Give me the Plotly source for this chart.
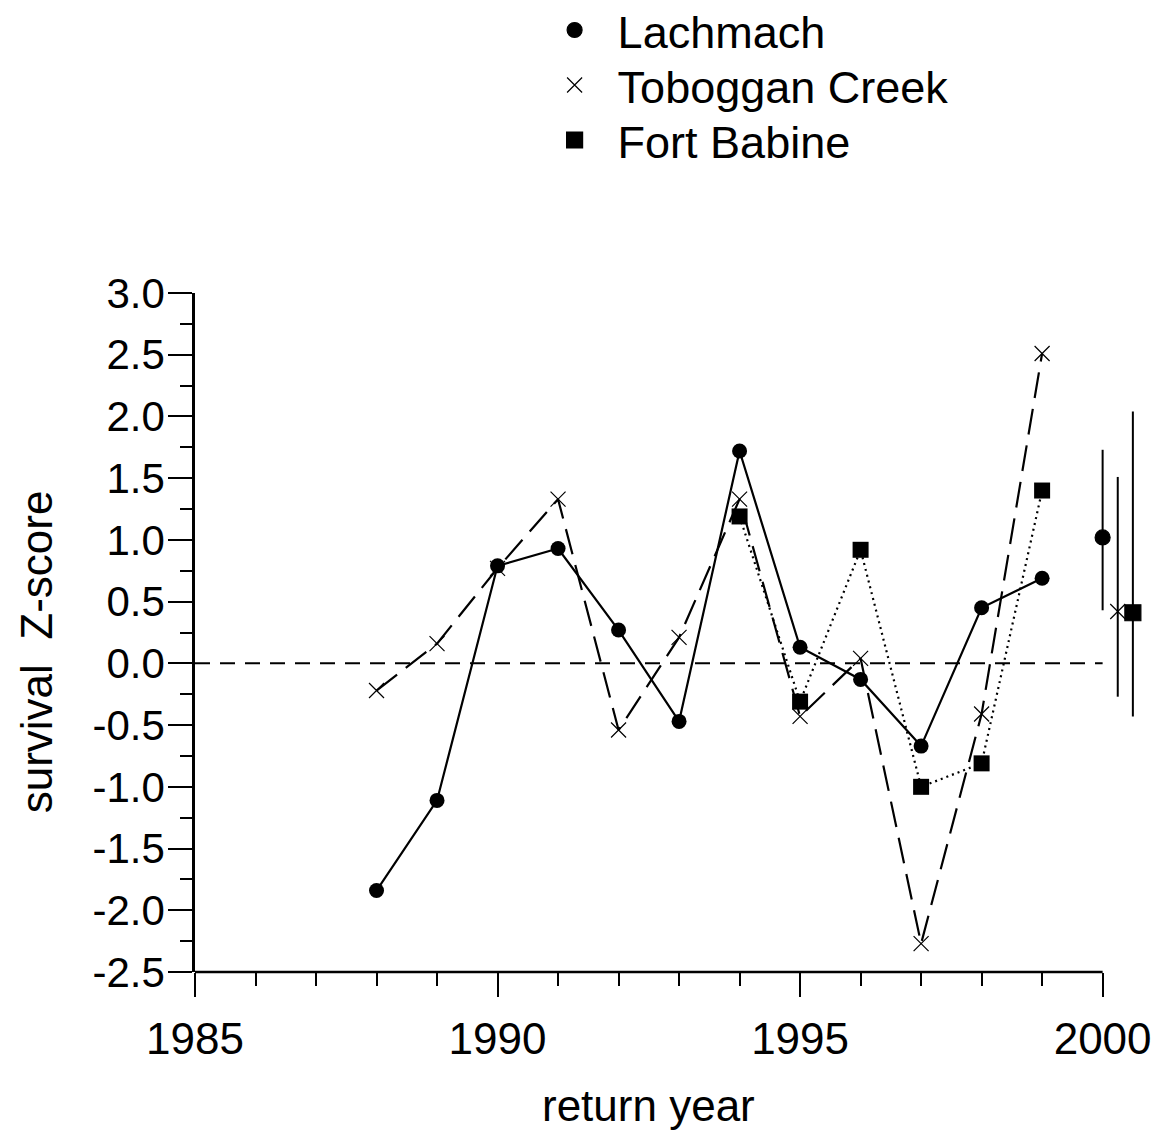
import plotly.graph_objects as go

# return years
years = [1988, 1989, 1990, 1991, 1992, 1993, 1994, 1995, 1996, 1997, 1998, 1999]
years_fb = [1994, 1995, 1996, 1997, 1998, 1999]

# survival Z-scores
lachmach = [-1.84, -1.11, 0.79, 0.93, 0.27, -0.47, 1.72, 0.13, -0.13, -0.67, 0.45, 0.69]
toboggan = [-0.22, 0.16, 0.77, 1.33, -0.54, 0.21, 1.33, -0.43, 0.04, -2.27, -0.41, 2.51]
fort_babine = [1.19, -0.31, 0.92, -1.00, -0.81, 1.40]

# mean values with ranges, plotted just right of 2000
mean_x = [2000.0, 2000.25, 2000.5]
mean_y = [1.02, 0.42, 0.41]
mean_hi = [1.73, 1.51, 2.04]
mean_lo = [0.43, -0.27, -0.43]

zero_x = [1985, 2000]
zero_y = [0, 0]

x_ticks = [1985, 1990, 1995, 2000]
x_minor = list(range(1985, 2001))
y_ticks = [-2.5, -2.0, -1.5, -1.0, -0.5, 0.0, 0.5, 1.0, 1.5, 2.0, 2.5, 3.0]
y_labels = ['-2.5', '-2.0', '-1.5', '-1.0', '-0.5', '0.0', '0.5', '1.0', '1.5', '2.0', '2.5', '3.0']

FONT = 'Liberation Sans, Arial, sans-serif'
names = ['Lachmach', 'Toboggan Creek', 'Fort Babine']
symbols = ['circle', 'x-thin-open', 'square']
sizes = [15, 15, 16]

fig = go.Figure()

# zero reference line
fig.add_trace(go.Scatter(x=zero_x, y=zero_y, mode='lines', showlegend=False,
                         line=dict(color='black', width=2, dash='15px,10px')))

fig.add_trace(go.Scatter(x=years, y=lachmach, mode='lines+markers', showlegend=False,
                         line=dict(color='black', width=2.2),
                         marker=dict(symbol='circle', size=15, color='black')))
fig.add_trace(go.Scatter(x=years, y=toboggan, mode='lines+markers', showlegend=False,
                         line=dict(color='black', width=2.2, dash='26px,11px'),
                         marker=dict(symbol='x-thin-open', size=15,
                                     line=dict(color='black', width=1.2))))
fig.add_trace(go.Scatter(x=years_fb, y=fort_babine, mode='lines+markers', showlegend=False,
                         line=dict(color='black', width=2.2, dash='2px,4px'),
                         marker=dict(symbol='square', size=16, color='black')))

# means with ranges
for i in range(3):
    fig.add_trace(go.Scatter(
        x=[mean_x[i]], y=[mean_y[i]], mode='markers', showlegend=False,
        marker=dict(symbol=symbols[i], size=sizes[i], color='black',
                    line=dict(color='black', width=1.2)),
        error_y=dict(type='data', symmetric=False,
                     array=[mean_hi[i] - mean_y[i]],
                     arrayminus=[mean_y[i] - mean_lo[i]],
                     color='black', thickness=2, width=0)))

# legend entries (markers only), one small legend per row
legend_ids = ['legend', 'legend2', 'legend3']
legend_rows = [1.440, 1.359, 1.278]
for i in range(3):
    fig.add_trace(go.Scatter(
        x=[None], y=[None], mode='markers', name=names[i], legend=legend_ids[i],
        marker=dict(symbol=symbols[i], size=sizes[i], color='black',
                    line=dict(color='black', width=1.2))))

# x axis line only spans 1985-2000
fig.add_shape(type='line', xref='x', yref='paper', x0=1985, x1=2000, y0=0, y1=0,
              line=dict(color='black', width=2.5))

# page body adds an 8px offset, so the figure is 8px smaller than the window
fig.update_layout(
    width=1152, height=1123,
    margin=dict(l=187, r=12, t=285, b=159, autoexpand=False),
    paper_bgcolor='white', plot_bgcolor='white',
    font=dict(family=FONT, size=44, color='black'),
    annotations=[
        dict(text='return year', xref='x', yref='paper', x=1992.5, y=0,
             yanchor='middle', yshift=-133, showarrow=False, font=dict(size=44)),
        dict(text='survival\u00a0\u00a0Z-score', xref='paper', yref='paper',
             x=-0.166, y=0.472, textangle=-90, showarrow=False,
             xanchor='center', yanchor='middle', font=dict(size=44)),
    ],
)
for lid, ly in zip(legend_ids, legend_rows):
    fig.update_layout({lid: dict(x=0.3532, y=ly, xanchor='left', yanchor='top',
                                 itemwidth=76, font=dict(size=45),
                                 bgcolor='rgba(0,0,0,0)')})

fig.update_xaxes(range=[1985, 2000.75], showgrid=False, zeroline=False, showline=False,
                 automargin=False, ticklabelstandoff=4,
                 tickmode='array', tickvals=x_ticks, ticks='outside', ticklen=24,
                 tickwidth=2, tickcolor='black', tickfont=dict(size=44),
                 minor=dict(tickmode='array', tickvals=x_minor, ticks='outside',
                            ticklen=13, tickwidth=2, tickcolor='black'))
fig.update_yaxes(range=[-2.5, 3.0], showgrid=False, zeroline=False, showline=True,
                 linecolor='black', linewidth=2.5, automargin=False,
                 ticklabelstandoff=-5,
                 tickmode='array', tickvals=y_ticks, ticktext=y_labels,
                 ticks='outside', ticklen=24, tickwidth=2, tickcolor='black',
                 tickfont=dict(size=42),
                 minor=dict(dtick=0.25, ticks='outside', ticklen=12, tickwidth=2,
                            tickcolor='black'))

fig.write_html('out.html')
